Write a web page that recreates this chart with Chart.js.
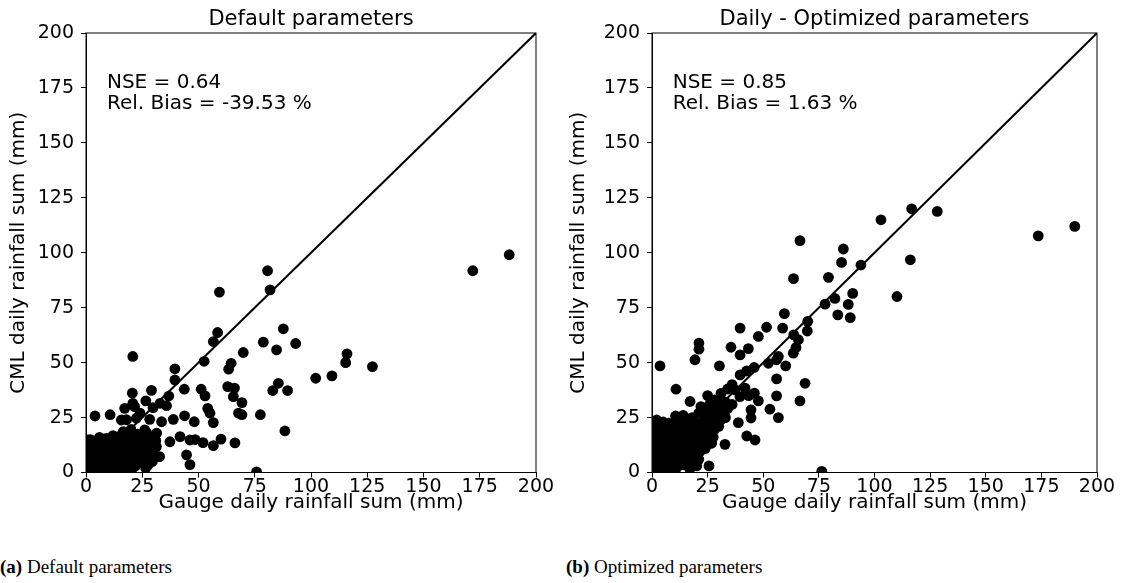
<!DOCTYPE html>
<html>
<head>
<meta charset="utf-8">
<script src="https://cdn.jsdelivr.net/npm/chart.js@4.4.1/dist/chart.umd.min.js"></script>
<style>
  body { margin: 0; background: #fff; width: 1121px; height: 583px; position: relative; overflow: hidden; }
  #wrapA { position: absolute; left: 0; top: 0; width: 560px; height: 520px; }
  #wrapB { position: absolute; left: 560px; top: 0; width: 561px; height: 520px; }
  .caption { position: absolute; top: 556px; font-family: "Liberation Serif", serif; font-size: 19px; color: #000; }
</style>
</head>
<body>
<div id="wrapA"><canvas id="chartA" width="560" height="520"></canvas></div>
<div id="wrapB"><canvas id="chartB" width="561" height="520"></canvas></div>
<div class="caption" style="left:0px"><b>(a)</b> Default parameters</div>
<div class="caption" style="left:566px"><b>(b)</b> Optimized parameters</div>
<script>
// Default parameters: gauge (x) vs CML (y), mm/day
const gaugeDefault = [
  80.7, 81.8, 59.3, 58.5, 56.6, 87.7, 78.8, 93.2, 84.7, 69.9, 20.8, 52.5, 64.5, 63.4, 39.5, 39.5,
  102.1, 109.3, 115.4, 116.0, 127.3, 171.9, 188.1, 85.5, 83.0, 89.6, 43.7, 51.2, 63.0, 66.0, 52.9, 65.5,
  69.3, 54.1, 55.1, 56.6, 67.8, 69.3, 77.5, 88.4, 66.2, 75.8, 46.2, 44.7, 37.3, 48.1, 43.8, 38.8,
  33.6, 52.0, 56.6, 60.0, 41.8, 46.2, 48.5, 4.0, 10.7, 20.6, 29.1, 36.8, 32.9, 26.6, 17.2, 20.8,
  29.8, 35.8, 18.0, 24.0, 28.3, 16.6, 31.4, 20.3, 21.6, 22.4, 15.7, 26.1, 20.0, 31.3, 32.7, 27.6,
  11.3, 6.1, 0.9, 31.0,
  0.5, 1, 1.5, 0.8, 2, 1.2, 2.5, 3, 3.5, 4, 3.2, 4.5, 5, 5.5, 6, 6.5, 7, 7.5, 8, 8.5, 9, 9.5, 10, 10.5,
  11, 11.5, 12, 12.5, 13, 13.5, 14, 14.5, 15, 15.5, 16, 16.5, 17, 17.5, 18, 18.5, 19, 19.5, 20, 20.5,
  21, 21.5, 22, 22.5, 23, 23.5, 24, 24.5, 25, 25.5, 26, 26.5, 27, 27.5, 28, 29, 29.5, 30, 2, 6, 9, 12,
  4, 7, 10, 13, 16, 18, 21, 24, 3, 6, 9, 15, 18, 23, 27
];
const cmlDefault = [
  91.8, 83.1, 82.1, 63.7, 59.6, 65.4, 59.3, 58.7, 55.8, 54.6, 52.8, 50.6, 49.7, 47.0, 47.2, 42.1,
  42.9, 44.0, 50.0, 54.0, 48.2, 91.8, 99.1, 40.6, 37.3, 37.3, 37.9, 37.9, 39.1, 38.4, 34.9, 34.5,
  31.8, 29.2, 27.0, 22.7, 27.0, 26.3, 26.3, 18.9, 13.5, 0.3, 3.6, 8.0, 14.0, 23.1, 25.8, 24.2,
  23.1, 13.6, 12.2, 15.2, 16.3, 14.8, 15.0, 25.7, 26.3, 36.1, 37.4, 34.8, 31.5, 32.6, 29.2, 31.5,
  29.5, 30.4, 24.0, 27.0, 24.2, 18.6, 17.9, 1.1, 30.0, 24.7, 23.9, 19.4, 19.6, 11.8, 7.2, 3.4,
  14.0, 14.8, 14.8, 14.5,
  0.5, 2, 4, 6.5, 9, 11.5, 13, 0.8, 3, 5.5, 8, 10.5, 12.5, 1.5, 4, 7, 9.5, 12, 0.5, 3, 5.5, 8, 10.5, 13,
  1.5, 4.5, 7, 9.5, 12, 15, 2.5, 5.5, 8.5, 11, 14, 0.8, 4, 7, 10, 13, 16, 2, 5, 8.5,
  11.5, 14.5, 3, 6.5, 9.5, 12.5, 16.5, 4.5, 8, 11, 14.5, 2, 6, 9.5, 12.5, 16, 5, 9, 15, 16, 15.5, 16.8,
  2, 5.5, 3, 6, 9, 2.5, 6.5, 10.5, 12, 11, 11, 16.5, 17.5, 17.5, 18
];

// Daily - optimized parameters
const gaugeOptimized = [
  66.5, 86.0, 85.2, 93.9, 63.6, 79.3, 90.2, 82.2, 77.8, 88.2, 83.5, 89.1, 59.5, 58.7, 39.6, 51.5,
  47.8, 70.0, 69.8, 63.7, 65.8, 64.7, 63.5, 35.5, 43.3, 39.6, 21.1, 21.1, 19.3, 3.6, 30.3, 56.8,
  52.3, 56.0, 60.1, 39.6, 42.5, 45.9, 56.0, 68.8, 66.5, 53.0, 56.8, 56.0, 44.5, 44.5, 47.8, 46.0,
  41.8, 37.3, 38.8, 42.6, 46.3, 32.8, 23.1, 20.1, 25.6, 76.3, 10.8, 10.6, 17.1, 32.8, 27.6, 173.6,
  190.0, 102.9, 116.7, 128.2, 116.1, 110.1, 39.5, 43.5, 26.8, 16.3, 2.1, 28, 25, 31, 33, 22, 24, 36, 34,
  0.5, 1, 0.8, 1.5, 1, 2, 1.5, 1, 3, 3.5, 3, 4, 3.5, 4.5, 4, 5.5, 6, 5.5, 6.5, 6, 7, 8, 8.5, 8, 9, 8.5,
  9.5, 10, 11, 11.5, 11, 12, 12.5, 13, 13.5, 14, 14.5, 15, 15.5, 16, 16.5, 17, 17.5, 18, 18.5, 19, 19.5,
  20, 21, 21.5, 22, 22.5, 23, 23.5, 24, 25, 25.5, 26, 26.5, 27.5, 28, 28.5, 29, 30, 31, 31.5, 33, 34, 36,
  2.5, 5, 7.5, 12, 18, 21, 24, 26, 29, 31, 14, 10, 6
];
const cmlOptimized = [
  105.5, 101.7, 95.6, 94.4, 88.2, 88.8, 81.5, 79.2, 76.6, 76.5, 71.7, 70.5, 72.3, 65.7, 65.7, 66.1,
  61.9, 68.8, 64.4, 62.6, 60.4, 56.9, 54.3, 57.0, 56.4, 53.5, 58.9, 56.1, 51.3, 48.5, 48.5, 52.8,
  49.7, 51.3, 48.5, 44.4, 46.2, 47.8, 42.6, 40.6, 32.6, 28.8, 25.0, 34.9, 24.8, 28.5, 32.6, 36.1,
  38.4, 37.6, 22.7, 16.6, 14.8, 12.8, 11.0, 3.0, 3.0, 0.5, 37.9, 25.7, 32.3, 29.0, 27.0, 107.7,
  112.0, 115.0, 120.0, 118.8, 96.8, 80.1, 34.5, 35.0, 13.3, 23.9, 23.9, 33, 35, 36, 32, 30, 28, 40, 38,
  1, 3, 6, 9, 12, 15, 18, 21, 1.5, 5, 8, 11, 14, 17, 20, 2.5, 6, 9.5, 13, 16, 19, 1, 4, 7.5, 11, 14.5,
  18, 21, 2, 5.5, 9, 12.5, 16, 19, 22, 3.5, 7, 10.5, 14, 17.5, 20.5, 1.5, 5, 8.5, 12, 15.5, 19,
  22.5, 6, 9.5, 13, 16.5, 20, 24, 11, 14.5, 18, 21.5, 25, 16, 19.5, 23, 26.5, 21, 24, 27.5, 25, 29, 31,
  22, 23, 22.5, 24, 25, 27, 29, 31, 30, 33, 26, 8, 3
];

const tickFont = { family: "DejaVu Sans", size: 19, lineHeight: 1 };
const labelFont = { family: "DejaVu Sans", size: 20, lineHeight: 1.2 };

// full box around the plot area
const boxPlugin = {
  id: "box",
  afterDatasetsDraw(chart) {
    const a = chart.chartArea;
    const ctx = chart.ctx;
    ctx.save();
    ctx.strokeStyle = "#000";
    ctx.lineWidth = 1;
    ctx.strokeRect(a.left, a.top, a.right - a.left, a.bottom - a.top);
    ctx.restore();
  },
};

// NSE / bias annotation, placed in data coordinates
const statsPlugin = {
  id: "stats",
  afterDraw(chart, args, opts) {
    const ctx = chart.ctx;
    const x = chart.scales.x.getPixelForValue(9.3);
    const y = chart.scales.y.getPixelForValue(177.5);
    ctx.save();
    ctx.fillStyle = "#000";
    ctx.font = "20px 'DejaVu Sans'";
    ctx.textBaseline = "middle";
    ctx.textAlign = "left";
    opts.lines.forEach((line, i) => ctx.fillText(line, x, y + i * 21));
    ctx.restore();
  },
};

function makeChart(id, title, xs, ys, lines, yWidth) {
  const points = xs.map((v, i) => ({ x: v, y: ys[i] }));
  return new Chart(document.getElementById(id), {
    type: "scatter",
    data: {
      datasets: [
        {
          type: "line",
          data: [{ x: 0, y: 0 }, { x: 200, y: 200 }],
          borderColor: "#000",
          borderWidth: 2,
          pointRadius: 0,
          order: 0,
        },
        {
          data: points,
          backgroundColor: "#000",
          borderWidth: 0,
          pointRadius: 5.4,
          order: 1,
        },
      ],
    },
    options: {
      responsive: false,
      animation: false,
      layout: { padding: { left: 0, right: 24, top: 0, bottom: 0 } },
      plugins: {
        legend: { display: false },
        tooltip: { enabled: false },
        title: {
          display: true,
          text: title,
          fullSize: false,
          color: "#000",
          font: { family: "DejaVu Sans", size: 21, weight: "normal", lineHeight: 1 },
          padding: { top: 9.5, bottom: 2.5 },
        },
        stats: { lines },
      },
      scales: {
        x: {
          type: "linear",
          min: 0,
          max: 200,
          afterFit: (s) => { s.height = 47.5; },
          ticks: { stepSize: 25, color: "#000", font: tickFont, padding: 0, maxRotation: 0 },
          grid: { display: true, drawOnChartArea: false, tickLength: 5, color: "#000" },
          border: { display: true, color: "#000" },
          title: {
            display: true,
            text: "Gauge daily rainfall sum (mm)",
            color: "#000",
            font: labelFont,
            padding: { top: 0, bottom: 5 },
          },
        },
        y: {
          type: "linear",
          min: 0,
          max: 200,
          afterFit: (s) => { s.width = yWidth; },
          ticks: { stepSize: 25, color: "#000", font: tickFont, padding: 7 },
          grid: { display: true, drawOnChartArea: false, tickLength: 5, color: "#000" },
          border: { display: true, color: "#000" },
          title: {
            display: true,
            text: "CML daily rainfall sum (mm)",
            color: "#000",
            font: labelFont,
            padding: { top: 7, bottom: 0 },
          },
        },
      },
    },
    plugins: [boxPlugin, statsPlugin],
  });
}

makeChart("chartA", "Default parameters", gaugeDefault, cmlDefault,
  ["NSE = 0.64", "Rel. Bias = -39.53 %"], 86);
makeChart("chartB", "Daily - Optimized parameters", gaugeOptimized, cmlOptimized,
  ["NSE = 0.85", "Rel. Bias = 1.63 %"], 92);
</script>
</body>
</html>
